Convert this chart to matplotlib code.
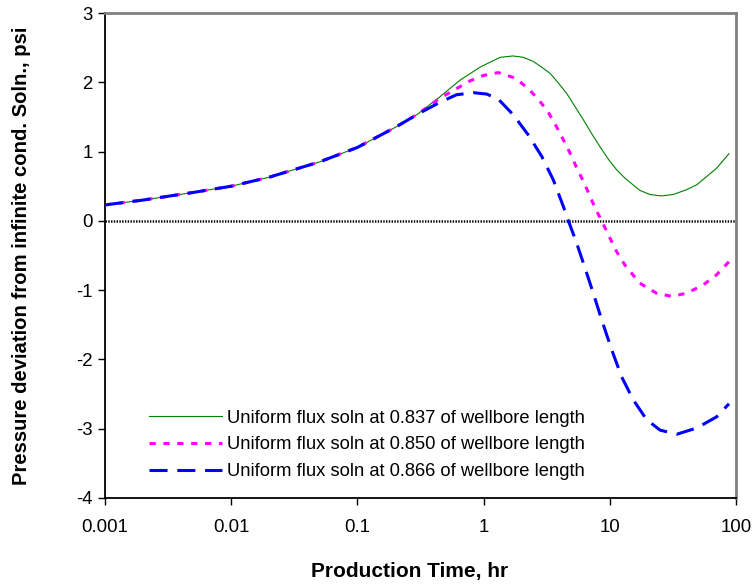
import matplotlib
matplotlib.use("Agg")
import matplotlib.pyplot as plt

plt.rcParams['font.family'] = ['Liberation Sans', 'DejaVu Sans']
plt.rcParams['lines.scale_dashes'] = False

# ---- data ----
common_t = [0.001, 0.002, 0.005, 0.01, 0.02, 0.05, 0.1, 0.2, 0.3]
common_v = [0.23, 0.30, 0.41, 0.50, 0.63, 0.85, 1.06, 1.35, 1.54]

green_t = common_t + [0.45, 0.65, 0.94, 1.35, 1.71, 2.07, 2.48, 2.8, 3.36, 3.91,
                      4.55, 5.3, 6.17, 7.18, 8.36, 9.73, 11.3, 13.2, 17.3, 20.8,
                      25.7, 31.8, 40.6, 48.8, 58.6, 70.2, 88]
green_v = common_v + [1.79, 2.03, 2.22, 2.36, 2.38, 2.36, 2.30, 2.235, 2.13, 1.99,
                      1.84, 1.65, 1.46, 1.26, 1.07, 0.89, 0.74, 0.615, 0.44, 0.38,
                      0.36, 0.38, 0.45, 0.52, 0.64, 0.76, 0.97]

magenta_t = common_t + [0.45, 0.78, 1.0, 1.31, 1.78, 2.26, 2.72, 3.2, 3.68, 4.23,
                        4.78, 5.39, 6.1, 6.84, 7.67, 8.63, 9.73, 11.3, 13.2, 17.3,
                        23.5, 30.9, 40.6, 55, 70, 88]
magenta_v = common_v + [1.77, 2.02, 2.10, 2.14, 2.06, 1.91, 1.75, 1.59, 1.40, 1.19,
                        1.0, 0.79, 0.59, 0.39, 0.18, 0.0, -0.20, -0.44, -0.64, -0.90,
                        -1.045, -1.09, -1.045, -0.925, -0.78, -0.59]

blue_t = common_t + [0.45, 0.61, 0.83, 1.06, 1.31, 1.72, 2.26, 2.89, 3.57, 4.29,
                     4.7, 5.46, 6.36, 7.4, 8.63, 10.35, 12.4, 15.3, 19.6, 25,
                     33.9, 48.8, 70, 88]
blue_v = common_v + [1.71, 1.82, 1.85, 1.83, 1.755, 1.53, 1.24, 0.93, 0.59, 0.205,
                     0.0, -0.32, -0.68, -1.045, -1.43, -1.86, -2.25, -2.58, -2.87, -3.02,
                     -3.08, -2.99, -2.83, -2.64]

labels = ["Uniform flux soln at 0.837 of wellbore length",
          "Uniform flux soln at 0.850 of wellbore length",
          "Uniform flux soln at 0.866 of wellbore length"]
x_ticks = [0.001, 0.01, 0.1, 1, 10, 100]
x_ticklabels = ["0.001", "0.01", "0.1", "1", "10", "100"]
y_ticks = [-4, -3, -2, -1, 0, 1, 2, 3]

# ---- figure ----
fig = plt.figure(figsize=(7.56, 5.87), dpi=100)
ax = fig.add_axes([105/756, 89/587, 631/756, 485/587])

ax.axhline(0, color='black', lw=1.8, linestyle=(0, (1.0, 1.0)), zorder=1)

ax.plot(green_t, green_v, color='#008000', lw=0.8, label=labels[0], zorder=3)
ax.plot(magenta_t, magenta_v, color='#FF00FF', lw=2.2,
        linestyle=(0, (4.5, 5.5)), label=labels[1], zorder=3)
ax.plot(blue_t, blue_v, color='#0000FF', lw=2.2,
        linestyle=(0, (13, 7)), label=labels[2], zorder=3)

ax.set_xscale('log')
ax.set_xlim(0.001, 100)
ax.set_ylim(-4, 3)
ax.set_xticks(x_ticks)
ax.set_xticklabels(x_ticklabels)
ax.xaxis.set_minor_locator(matplotlib.ticker.NullLocator())
ax.set_yticks(y_ticks)
ax.set_yticklabels([str(v) for v in y_ticks])

ax.tick_params(axis='both', which='major', direction='out', length=5, width=1,
               labelsize=13.4, colors='black')
ax.tick_params(axis='x', pad=10)
ax.tick_params(axis='y', pad=4)

for s in ['left', 'bottom']:
    ax.spines[s].set_color('black')
    ax.spines[s].set_linewidth(1.3)
for s in ['top', 'right']:
    ax.spines[s].set_color('#808080')
    ax.spines[s].set_linewidth(2)

ax.set_xlabel("Production Time, hr", fontsize=15, fontweight='bold')
ax.xaxis.set_label_coords(0.4834, -0.132)
ax.set_ylabel("Pressure deviation from infinite cond. Soln., psi", fontsize=14.6,
              fontweight='bold')
ax.yaxis.set_label_coords(-0.117, 0.5)

leg = ax.legend(loc='center left', bbox_to_anchor=(0.0697, 0.1093), frameon=False,
                fontsize=13.2, handlelength=4.0, handletextpad=0.27,
                labelspacing=0.54, borderaxespad=0, borderpad=0)

fig.savefig("out.png", dpi=100)
